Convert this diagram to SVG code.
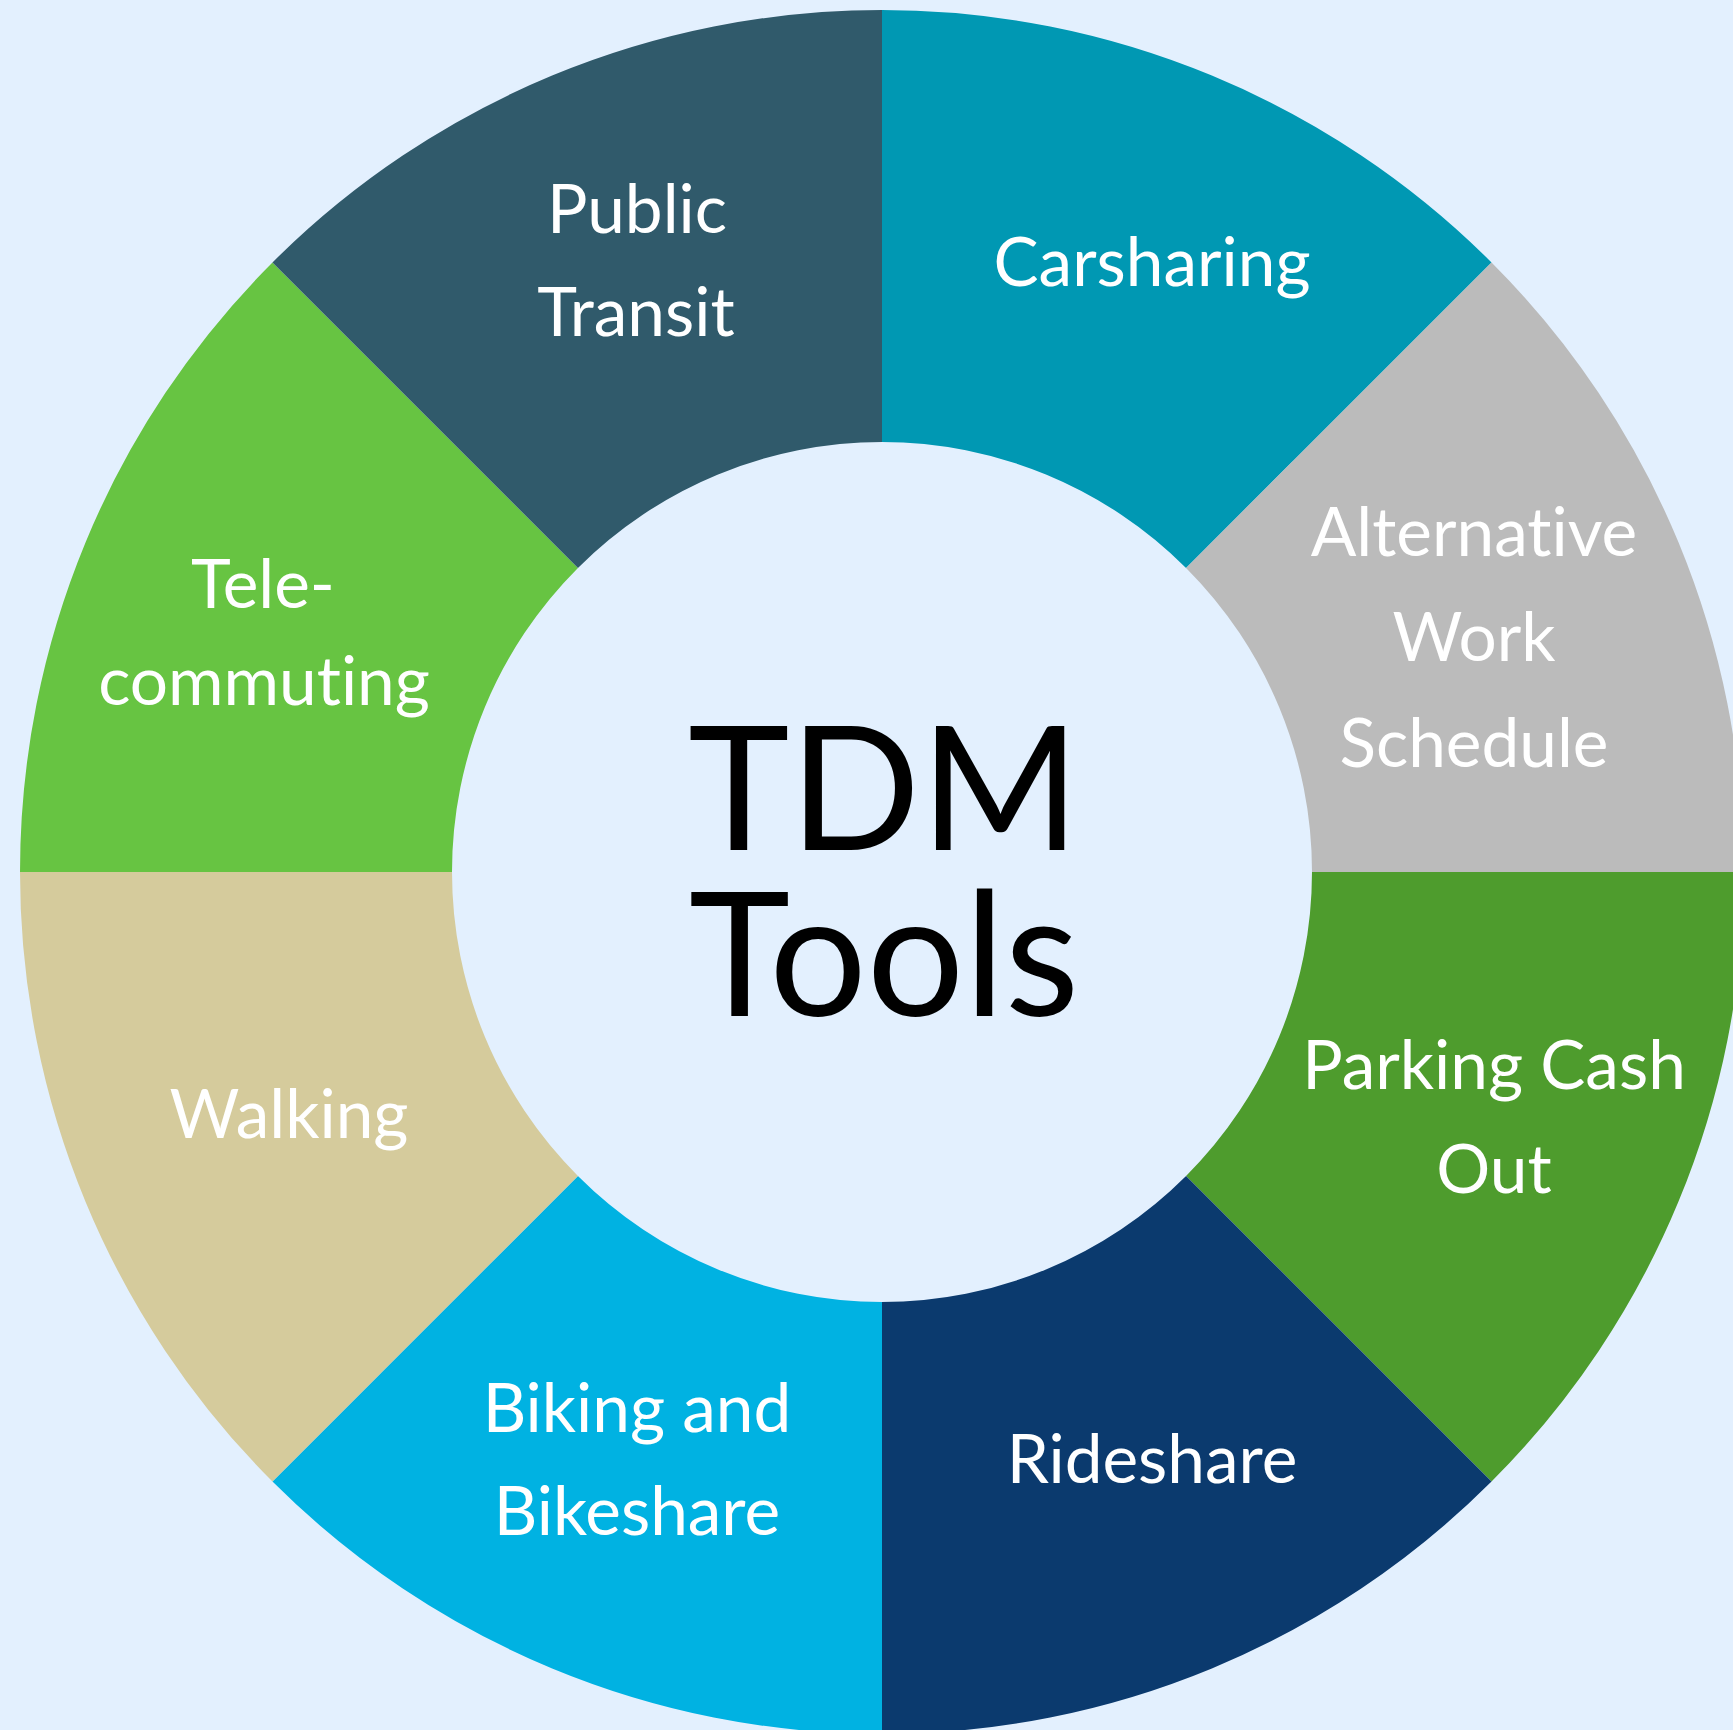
<svg xmlns="http://www.w3.org/2000/svg" width="1733" height="1730" viewBox="0 0 1733 1730">
<style>
text{font-variant-ligatures:none;font-feature-settings:"liga" 0,"clig" 0}
.lbl{font-family:Lato,"Liberation Sans",sans-serif;font-size:67.5px;fill:#ffffff;text-anchor:middle}
.ctr{font-family:Lato,"Liberation Sans",sans-serif;font-size:172px;fill:#000000;text-anchor:middle}
</style>
<rect x="0" y="0" width="1733" height="1730" fill="#E3F0FE"/>
<g id="carsharing">
<path d="M 882 10 A 862 862 0 0 1 1491.53 262.47 L 1186.06 567.94 A 430 430 0 0 0 882 442 Z" fill="#0098B3"/>
<text class="lbl" x="1152" y="286">Carsharing</text>
</g>
<g id="alternative-work-schedule">
<path d="M 1491.53 262.47 A 862 862 0 0 1 1744 872 L 1312 872 A 430 430 0 0 0 1186.06 567.94 Z" fill="#BBBBBB"/>
<text class="lbl" x="1474" y="556">Alternative</text>
<text class="lbl" x="1474" y="661">Work</text>
<text class="lbl" x="1474" y="767">Schedule</text>
</g>
<g id="parking-cash-out">
<path d="M 1744 872 A 862 862 0 0 1 1491.53 1481.53 L 1186.06 1175.94 A 430 430 0 0 0 1312 872 Z" fill="#4E9C2D"/>
<text class="lbl" x="1494" y="1089">Parking Cash</text>
<text class="lbl" x="1494" y="1193">Out</text>
</g>
<g id="rideshare">
<path d="M 1491.53 1481.53 A 862 862 0 0 1 882 1734 L 882 1302 A 430 430 0 0 0 1186.06 1175.94 Z" fill="#0B3A6E"/>
<text class="lbl" x="1152" y="1483">Rideshare</text>
</g>
<g id="biking-and-bikeshare">
<path d="M 882 1734 A 862 862 0 0 1 272.47 1481.53 L 577.94 1175.94 A 430 430 0 0 0 882 1302 Z" fill="#00B2E2"/>
<text class="lbl" x="637" y="1432">Biking and</text>
<text class="lbl" x="637" y="1535">Bikeshare</text>
</g>
<g id="walking">
<path d="M 272.47 1481.53 A 862 862 0 0 1 20 872 L 452 872 A 430 430 0 0 0 577.94 1175.94 Z" fill="#D5CB9C"/>
<text class="lbl" x="289" y="1138">Walking</text>
</g>
<g id="telecommuting">
<path d="M 20 872 A 862 862 0 0 1 272.47 262.47 L 577.94 567.94 A 430 430 0 0 0 452 872 Z" fill="#67C442"/>
<text class="lbl" x="263" y="608">Tele-</text>
<text class="lbl" x="264" y="705">commuting</text>
</g>
<g id="public-transit">
<path d="M 272.47 262.47 A 862 862 0 0 1 882 10 L 882 442 A 430 430 0 0 0 577.94 567.94 Z" fill="#305A6B"/>
<text class="lbl" x="637" y="233">Public</text>
<text class="lbl" x="636" y="336">Transit</text>
</g>
<g id="tdm-tools">
<text class="ctr" x="884" y="850">TDM</text>
<text class="ctr" x="884" y="1016">Tools</text>
</g>
<g id="connectors"/>
</svg>
